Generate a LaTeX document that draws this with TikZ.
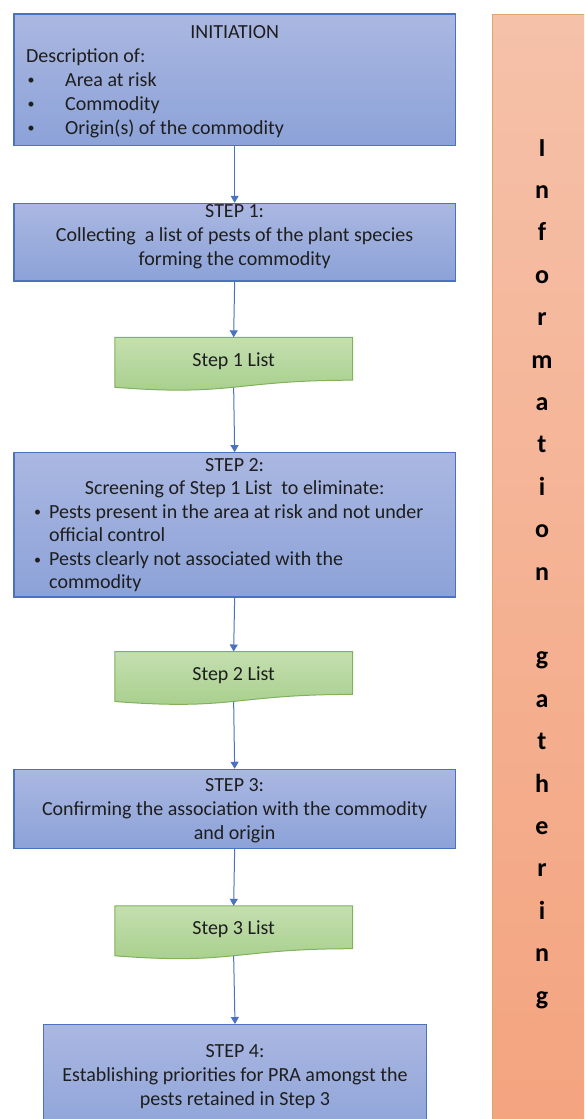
\documentclass[tikz,border=0pt]{standalone}
\usepackage{fontspec}
\setmainfont{Carlito}
\usetikzlibrary{arrows.meta,calc}
\definecolor{bluetop}{HTML}{AAB7E1}
\definecolor{bluebot}{HTML}{8CA2D8}
\definecolor{blueline}{HTML}{4A72C0}
\definecolor{greentop}{HTML}{C4DFB0}
\definecolor{greenbot}{HTML}{A6CE8A}
\definecolor{greenline}{HTML}{80B25C}
\definecolor{orangetop}{HTML}{F5C1A9}
\definecolor{orangebot}{HTML}{F4A37E}
\definecolor{orangeline}{HTML}{D9A672}
\definecolor{ink}{HTML}{1E1E1E}
\newcommand\bodyfont{\fontsize{20}{24}\selectfont}
\newcommand\bul{\raisebox{1.2pt}{\fontsize{14}{14}\selectfont\textbullet}}
\newcommand\docpath[1]{%
  \path[docstyle] (#1.north west) -- (#1.north east) -- ($(#1.north east)+(0,-42.9)$)
    .. controls ($(#1.north)+(0,-42.9)$) and ($(#1.north)+(0,-59.25)$) .. ($(#1.north west)+(0,-49.97)$) -- cycle;}
\begin{document}
\begin{tikzpicture}[x=1pt,y=1pt,
  bluebox/.style={draw=blueline, line width=1.1pt, top color=bluetop, bottom color=bluebot, inner sep=0pt},
  listbox/.style={inner sep=0pt, minimum width=237.3pt, minimum height=50pt},
  docstyle/.style={draw=greenline, line width=1pt, top color=greentop, bottom color=greenbot},
  infobox/.style={draw=orangeline, line width=1pt, top color=orangetop, bottom color=orangebot, inner sep=0pt},
  txt/.style={text=ink, font=\bodyfont, inner sep=0pt, anchor=base},
  ltxt/.style={text=ink, font=\bodyfont, inner sep=0pt, anchor=base west},
  arr/.style={draw=blueline, line width=1pt, -{Triangle[width=8pt,length=7pt]}}
]
\useasboundingbox (0,0) rectangle (584,-1119);
\fill[white] (0,0) rectangle (584,-1119);
\begin{scope}
\clip (0,0) rectangle (584,-1119);
% information gathering column
\node[infobox, anchor=north west, minimum width=120pt, minimum height=1130pt] (info) at (492,-14) {};
\node[text=black, inner sep=0pt, anchor=base, font=\fontsize{26}{42.4}\selectfont\bfseries] (infot) at (542,-156)
 {\begin{tabular}[t]{@{}c@{}}I\\n\\f\\o\\r\\m\\a\\t\\i\\o\\n\\ \\g\\a\\t\\h\\e\\r\\i\\n\\g\end{tabular}};

% INITIATION
\node[bluebox, minimum width=441.3pt, minimum height=131.7pt] (init) at (234.65,-79.85) {};
\node[txt] (initt) at (234.65,-38) {INITIATION};
\node[ltxt] (initl) at (26,-62) {\begin{tabular}[t]{@{}l@{}}Description of:\\
 \makebox[39pt][l]{\hspace{1.5pt}\bul}Area at risk\\
 \makebox[39pt][l]{\hspace{1.5pt}\bul}Commodity\\
 \makebox[39pt][l]{\hspace{1.5pt}\bul}Origin(s) of the commodity\end{tabular}};

% STEP 1
\node[bluebox, minimum width=441.3pt, minimum height=77.7pt] (s1) at (234.65,-242.15) {};
\node[txt] (s1t) at (234.65,-217.5) {\begin{tabular}[t]{@{}c@{}}STEP 1:\\Collecting\ \ a list of pests of the plant species\\forming the commodity\end{tabular}};

% Step 1 List
\node[listbox] (l1) at (233.65,-362.5) {};
\docpath{l1}
\node[txt] (l1t) at (233.65,-366) {Step 1 List};

% STEP 2
\node[bluebox, minimum width=441.3pt, minimum height=144.3pt] (s2) at (234.65,-524.85) {};
\node[txt] (s2t) at (234.65,-471) {\fontsize{20}{23.6}\selectfont\begin{tabular}[t]{@{}c@{}}STEP 2:\\Screening of Step 1 List\ \ to eliminate:\end{tabular}};
\node[ltxt] (s2l) at (34,-518) {\fontsize{20}{23.6}\selectfont\begin{tabular}[t]{@{}l@{}}
 \makebox[15pt][l]{\bul}Pests present in the area at risk and not under\\
 \makebox[15pt][l]{}official control\\
 \makebox[15pt][l]{\bul}Pests clearly not associated with the\\
 \makebox[15pt][l]{}commodity\end{tabular}};

% Step 2 List
\node[listbox] (l2) at (233.65,-676.7) {};
\docpath{l2}
\node[txt] (l2t) at (233.65,-680) {Step 2 List};

% STEP 3
\node[bluebox, minimum width=441.3pt, minimum height=79pt] (s3) at (234.65,-808.8) {};
\node[txt] (s3t) at (234.65,-791.5) {\begin{tabular}[t]{@{}c@{}}STEP 3:\\Confirming the association with the commodity\\and origin\end{tabular}};

% Step 3 List
\node[listbox] (l3) at (233.65,-931) {};
\docpath{l3}
\node[txt] (l3t) at (233.65,-934.5) {Step 3 List};

% STEP 4
\node[bluebox, anchor=north, minimum width=383.4pt, minimum height=120pt] (s4) at (235,-1024) {};
\node[txt] (s4t) at (235,-1057) {\begin{tabular}[t]{@{}c@{}}STEP 4:\\Establishing priorities for PRA amongst the\\pests retained in Step 3\end{tabular}};

% connectors
\draw[arr] (init.south) -- (s1.north);
\draw[arr] (s1.south) -- (l1.north);
\draw[arr] (l1.south) -- (s2.north);
\draw[arr] (s2.south) -- (l2.north);
\draw[arr] (l2.south) -- (s3.north);
\draw[arr] (s3.south) -- (l3.north);
\draw[arr] (l3.south) -- (s4.north);
\end{scope}
\end{tikzpicture}
\end{document}
